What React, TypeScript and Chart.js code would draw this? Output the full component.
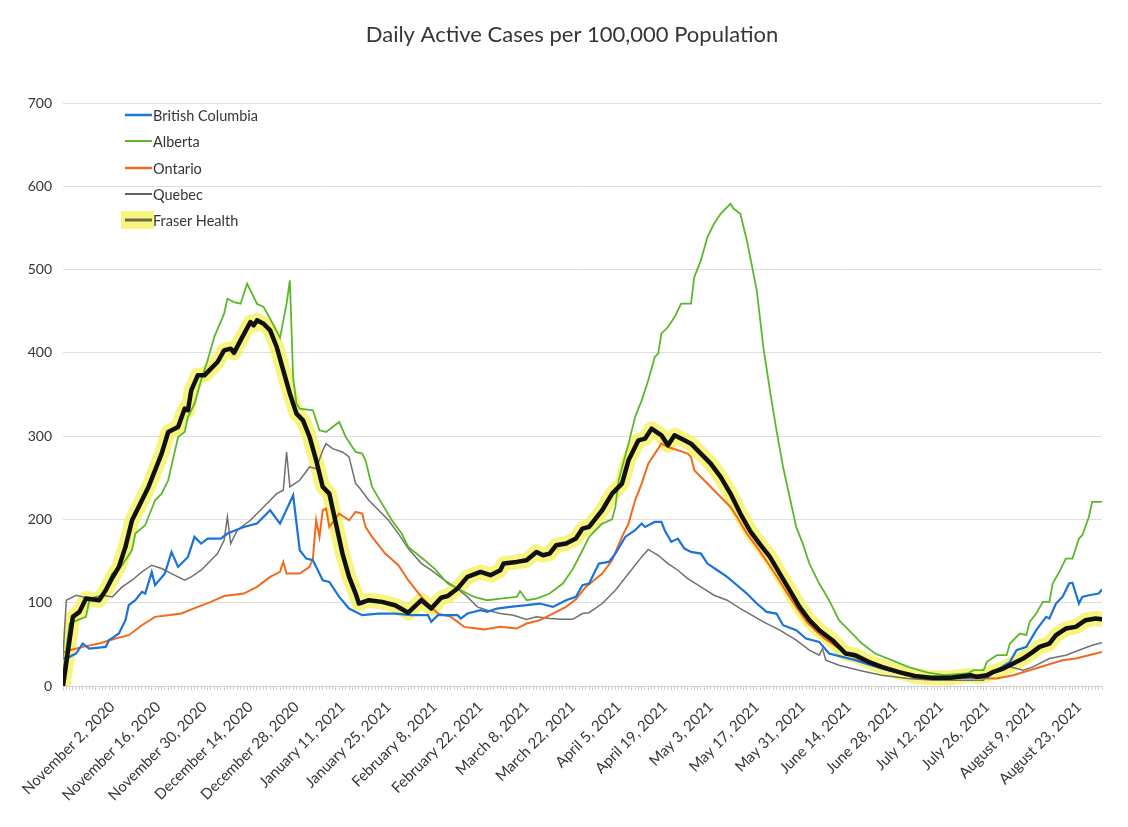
import React, { useEffect, useRef } from 'react';
import { Chart, registerables } from 'chart.js';

Chart.register(...registerables);

// x values are day offsets from October 18, 2020 (day 0) to August 30, 2021 (day 316)
const tickDays = [15, 29, 43, 57, 71, 85, 99, 113, 127, 141, 155, 169, 183, 197, 211, 225, 239, 253, 267, 281, 295, 309];
const tickLabels = [
  'November 2, 2020', 'November 16, 2020', 'November 30, 2020', 'December 14, 2020', 'December 28, 2020',
  'January 11, 2021', 'January 25, 2021', 'February 8, 2021', 'February 22, 2021', 'March 8, 2021',
  'March 22, 2021', 'April 5, 2021', 'April 19, 2021', 'May 3, 2021', 'May 17, 2021', 'May 31, 2021',
  'June 14, 2021', 'June 28, 2021', 'July 12, 2021', 'July 26, 2021', 'August 9, 2021', 'August 23, 2021',
];

const fraserDays = [0, 3, 5, 7, 11, 13, 15, 17, 19, 21, 23, 26, 28, 30, 32, 35, 37, 38, 39, 41, 43, 45, 47, 49, 51, 52, 54, 57, 58, 59, 61, 63, 65, 67, 69, 71, 73, 75, 77, 79, 81, 83, 85, 87, 89, 90, 93, 97, 101, 105, 109, 112, 115, 117, 120, 123, 127, 130, 133, 134, 138, 141, 144, 146, 148, 150, 153, 156, 158, 160, 164, 167, 170, 172, 175, 177, 179, 182, 184, 186, 189, 191, 194, 197, 200, 203, 206, 209, 212, 215, 218, 221, 224, 227, 230, 234, 238, 241, 245, 249, 254, 259, 264, 270, 276, 278, 281, 283, 286, 289, 292, 295, 297, 300, 302, 305, 308, 311, 314, 316];
const fraserValues = [0, 83, 89, 105, 103, 115, 130, 143, 167, 199, 215, 239, 259, 279, 305, 311, 333, 331, 355, 373, 373, 381, 389, 403, 405, 400, 415, 437, 433, 439, 435, 427, 407, 379, 351, 327, 319, 299, 271, 239, 231, 195, 159, 131, 111, 99, 103, 101, 97, 88, 103, 93, 106, 108, 117, 131, 137, 133, 139, 147, 149, 151, 161, 157, 159, 169, 171, 177, 189, 191, 211, 231, 243, 271, 295, 297, 309, 301, 289, 301, 295, 291, 279, 267, 251, 231, 207, 186, 170, 155, 135, 115, 95, 79, 67, 55, 39, 37, 29, 23, 17, 12, 10, 10, 13, 11, 13, 17, 21, 27, 33, 41, 47, 51, 61, 69, 71, 79, 81, 80];

const albertaDays = [0, 2, 5, 7, 8, 12, 15, 18, 21, 22, 25, 28, 30, 32, 35, 37, 38, 40, 42, 44, 46, 49, 50, 52, 54, 56, 59, 61, 63, 66, 68, 69, 70, 71, 72, 76, 78, 80, 84, 86, 89, 91, 92, 94, 97, 100, 103, 105, 110, 113, 117, 121, 125, 129, 133, 138, 139, 141, 144, 148, 152, 155, 158, 160, 162, 164, 167, 168, 169, 172, 174, 176, 178, 180, 181, 182, 184, 186, 188, 191, 192, 194, 196, 198, 200, 203, 204, 206, 208, 209, 211, 213, 215, 217, 219, 221, 223, 225, 227, 230, 233, 236, 239, 243, 247, 252, 257, 263, 268, 275, 277, 280, 281, 284, 287, 288, 291, 293, 294, 296, 298, 300, 301, 303, 305, 307, 309, 310, 312, 313, 316];
const albertaValues = [15, 75, 80, 83, 103, 109, 135, 145, 163, 183, 193, 223, 231, 247, 299, 305, 323, 339, 367, 391, 419, 447, 465, 461, 459, 483, 459, 455, 441, 418, 459, 487, 370, 339, 333, 331, 307, 305, 317, 299, 281, 279, 271, 239, 219, 199, 183, 167, 151, 141, 123, 115, 107, 103, 105, 107, 114, 103, 105, 111, 123, 140, 163, 179, 187, 195, 200, 215, 247, 291, 323, 343, 367, 395, 399, 423, 431, 443, 459, 459, 491, 511, 539, 555, 567, 579, 573, 567, 535, 515, 475, 407, 355, 307, 263, 227, 191, 171, 147, 123, 103, 79, 67, 51, 39, 31, 23, 16, 13, 15, 19, 19, 29, 37, 37, 51, 63, 61, 77, 87, 101, 101, 123, 137, 153, 153, 177, 181, 203, 221, 221];

const bcDays = [0, 2, 4, 6, 8, 13, 14, 17, 19, 20, 22, 24, 25, 27, 28, 31, 33, 35, 38, 40, 42, 44, 48, 50, 55, 59, 63, 66, 70, 72, 74, 76, 79, 81, 84, 87, 91, 96, 101, 106, 111, 112, 114, 120, 121, 123, 127, 129, 132, 136, 141, 145, 149, 153, 156, 158, 160, 163, 166, 168, 171, 174, 176, 177, 180, 182, 183, 185, 187, 189, 191, 194, 196, 199, 202, 205, 208, 211, 214, 217, 219, 223, 226, 230, 233, 237, 241, 245, 250, 255, 260, 265, 281, 284, 288, 290, 293, 296, 299, 300, 302, 304, 306, 307, 309, 310, 312, 315, 316];
const bcValues = [33, 35, 39, 51, 45, 47, 55, 63, 79, 97, 103, 113, 111, 137, 121, 135, 161, 143, 155, 179, 171, 177, 177, 183, 191, 195, 211, 195, 229, 163, 153, 151, 127, 125, 107, 93, 85, 87, 87, 85, 85, 77, 85, 85, 81, 87, 91, 89, 93, 95, 97, 99, 95, 103, 107, 121, 123, 147, 149, 159, 179, 187, 195, 191, 197, 197, 187, 173, 177, 165, 161, 159, 147, 139, 131, 121, 111, 99, 89, 87, 73, 67, 57, 53, 39, 35, 31, 26, 20, 15, 12, 10, 10, 19, 29, 43, 47, 67, 83, 81, 99, 107, 123, 124, 99, 107, 109, 111, 116];

const ontarioDays = [0, 2, 6, 11, 16, 20, 24, 28, 32, 36, 41, 45, 49, 55, 59, 63, 66, 67, 68, 72, 75, 76, 77, 78, 79, 80, 81, 84, 87, 89, 91, 92, 94, 98, 102, 105, 109, 114, 118, 122, 128, 133, 138, 141, 145, 149, 153, 156, 159, 164, 167, 170, 172, 174, 176, 178, 180, 182, 184, 187, 190, 191, 192, 194, 197, 200, 203, 205, 208, 211, 214, 217, 220, 223, 226, 229, 232, 236, 240, 245, 250, 255, 260, 265, 284, 289, 294, 299, 304, 308, 312, 316];
const ontarioValues = [40, 43, 47, 51, 57, 61, 73, 83, 85, 87, 95, 101, 108, 111, 119, 131, 137, 149, 135, 135, 143, 153, 199, 179, 211, 213, 191, 207, 199, 209, 207, 191, 179, 159, 145, 127, 107, 87, 83, 71, 68, 71, 69, 75, 79, 87, 95, 104, 119, 135, 151, 179, 195, 223, 243, 267, 279, 291, 287, 283, 279, 275, 259, 251, 239, 227, 215, 203, 183, 167, 150, 132, 113, 95, 78, 66, 56, 45, 36, 27, 21, 16, 12, 10, 9, 13, 19, 25, 31, 33, 37, 41];

const quebecDays = [0, 1, 4, 8, 12, 15, 18, 21, 24, 27, 30, 33, 37, 39, 42, 45, 47, 49, 50, 51, 53, 57, 61, 65, 67, 68, 69, 72, 75, 77, 79, 80, 82, 85, 87, 89, 90, 93, 96, 99, 102, 105, 109, 112, 116, 120, 123, 126, 129, 133, 137, 141, 144, 148, 152, 155, 158, 160, 164, 168, 172, 176, 178, 181, 184, 187, 190, 194, 198, 202, 206, 210, 213, 218, 223, 227, 230, 231, 232, 236, 242, 249, 257, 265, 280, 281, 284, 288, 292, 295, 300, 305, 309, 313, 316];
const quebecValues = [35, 103, 109, 105, 109, 107, 119, 127, 137, 145, 141, 135, 127, 131, 139, 151, 159, 175, 203, 171, 187, 199, 215, 231, 235, 281, 239, 247, 263, 261, 283, 291, 285, 281, 275, 243, 239, 223, 211, 199, 183, 165, 147, 139, 127, 117, 107, 95, 91, 87, 85, 80, 83, 81, 80, 80, 87, 88, 99, 115, 135, 155, 164, 157, 147, 139, 129, 119, 109, 103, 93, 84, 77, 67, 55, 43, 37, 45, 31, 25, 19, 13, 9, 7, 7, 15, 19, 23, 19, 23, 33, 37, 43, 49, 52];

const FONT = 'Lato, "Open Sans", sans-serif';
const TEXT = '#363636';

const legendItems = [
  { label: 'British Columbia', color: '#1a73d9', width: 2.5, highlight: false },
  { label: 'Alberta', color: '#5cb82a', width: 2, highlight: false },
  { label: 'Ontario', color: '#f26b1d', width: 2.5, highlight: false },
  { label: 'Quebec', color: '#5f6368', width: 2, highlight: false },
  { label: 'Fraser Health', color: '#6b6b45', width: 3, highlight: true },
];

export default function App() {
  const ref = useRef<HTMLCanvasElement>(null);

  useEffect(() => {
    if (!ref.current) return;
    const pts = (d: number[], v: number[]) => d.map((x, i) => ({ x, y: v[i] }));

    const overlay = {
      id: 'overlay',
      afterDraw(chart: any) {
        const ctx = chart.ctx as CanvasRenderingContext2D;
        ctx.save();
        ctx.fillStyle = TEXT;
        ctx.font = `22px ${FONT}`;
        ctx.textAlign = 'center';
        ctx.textBaseline = 'middle';
        ctx.fillText('Daily Active Cases per 100,000 Population', 572, 35);

        const ys = [115, 141, 168, 194, 220];
        ctx.textAlign = 'left';
        ctx.font = `14.5px ${FONT}`;
        legendItems.forEach((it, i) => {
          const y = ys[i];
          if (it.highlight) {
            ctx.fillStyle = 'rgba(245, 242, 95, 0.8)';
            ctx.fillRect(121, y - 9, 33, 18);
          }
          ctx.strokeStyle = it.color;
          ctx.lineWidth = it.width;
          ctx.beginPath();
          ctx.moveTo(125, y);
          ctx.lineTo(152, y);
          ctx.stroke();
          ctx.fillStyle = TEXT;
          ctx.fillText(it.label, 153, y + 1);
        });
        ctx.restore();
      },
    };

    const chart = new Chart(ref.current, {
      type: 'line',
      data: {
        datasets: [
          { label: 'Fraser Health', data: pts(fraserDays, fraserValues), borderColor: '#111111', borderWidth: 4.5, borderJoinStyle: 'round', borderCapStyle: 'round' },
          { label: 'British Columbia', data: pts(bcDays, bcValues), borderColor: '#1a73d9', borderWidth: 2.2 },
          { label: 'Alberta', data: pts(albertaDays, albertaValues), borderColor: '#5cb82a', borderWidth: 1.8 },
          { label: 'Ontario', data: pts(ontarioDays, ontarioValues), borderColor: '#f26b1d', borderWidth: 2 },
          { label: 'Quebec', data: pts(quebecDays, quebecValues), borderColor: '#707070', borderWidth: 1.5 },
          { label: 'Fraser Health highlight', data: pts(fraserDays, fraserValues), borderColor: 'rgba(244, 240, 85, 0.75)', borderWidth: 15, borderJoinStyle: 'round', borderCapStyle: 'round' },
        ],
      } as any,
      options: {
        animation: false,
        responsive: false,
        devicePixelRatio: 1,
        layout: { padding: { top: 103, right: 26, bottom: 0, left: 0 } },
        elements: { point: { radius: 0 }, line: { tension: 0 } },
        plugins: { legend: { display: false }, title: { display: false }, tooltip: { enabled: false } },
        scales: {
          x: {
            type: 'linear',
            min: 0,
            max: 316,
            afterFit: (s: any) => { s.height = 141; },
            ticks: {
              stepSize: 1,
              autoSkip: false,
              minRotation: 45,
              maxRotation: 45,
              padding: 8,
              color: TEXT,
              font: { family: FONT, size: 15 },
              callback: (v: any) => {
                const i = tickDays.indexOf(Math.round(Number(v)));
                return i >= 0 ? tickLabels[i] : '';
              },
            },
            grid: { drawOnChartArea: false, drawTicks: true, tickLength: 4, color: '#cfcfcf' },
            border: { display: true, color: '#cfcfcf' },
          },
          y: {
            min: 0,
            max: 700,
            afterFit: (s: any) => { s.width = 63; },
            ticks: { stepSize: 100, padding: 11, color: TEXT, font: { family: FONT, size: 14 } },
            grid: { color: '#dedede', drawTicks: false },
            border: { display: false },
          },
        },
      } as any,
      plugins: [overlay],
    });
    return () => chart.destroy();
  }, []);

  return (
    <div style={{ position: 'fixed', left: 0, top: 0, width: 1128, height: 827, background: '#ffffff' }}>
      <canvas ref={ref} width={1128} height={827} style={{ width: 1128, height: 827, display: 'block' }} />
    </div>
  );
}
